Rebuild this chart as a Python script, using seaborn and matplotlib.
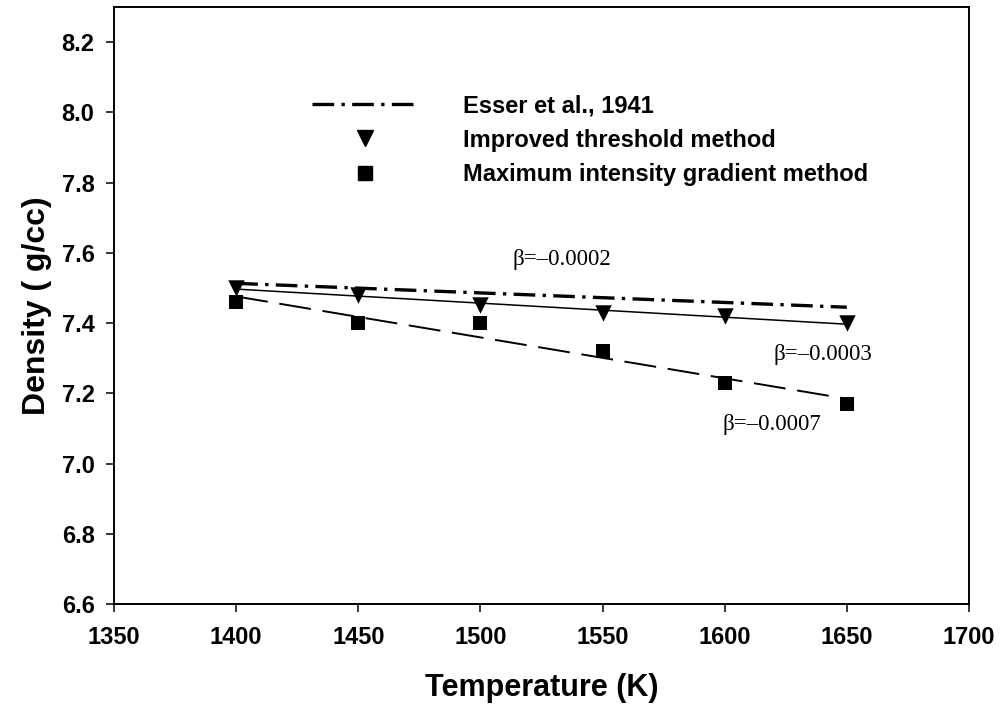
import numpy as np
import pandas as pd
import matplotlib
matplotlib.use("Agg")
import matplotlib.pyplot as plt
from matplotlib.lines import Line2D
import seaborn as sns

# ---------------- data ----------------
temperature = [1400, 1450, 1500, 1550, 1600, 1650]
rho_threshold = [7.50, 7.48, 7.45, 7.43, 7.42, 7.40]
rho_gradient = [7.46, 7.40, 7.40, 7.32, 7.23, 7.17]
esser_T = [1400, 1650]
esser_rho = [7.513, 7.445]
legend_labels = ["Esser et al., 1941", "Improved threshold method",
                 "Maximum intensity gradient method"]
beta_labels = ["β=–0.0002", "β=–0.0003", "β=–0.0007"]
beta_pos = [(1513, 7.564), (1620, 7.296), (1599, 7.096)]
x_ticks = [1350, 1400, 1450, 1500, 1550, 1600, 1650, 1700]
y_ticks = [6.6, 6.8, 7.0, 7.2, 7.4, 7.6, 7.8, 8.0, 8.2]

sns.set_style("ticks")
plt.rcParams['font.family'] = ['Liberation Sans', 'DejaVu Sans']
plt.rcParams['text.color'] = 'black'
plt.rcParams['axes.labelcolor'] = 'black'
plt.rcParams['xtick.color'] = 'black'
plt.rcParams['ytick.color'] = 'black'
plt.rcParams['legend.labelcolor'] = 'black'

fig = plt.figure(figsize=(10.01, 7.11), dpi=100)
ax = fig.add_axes([0.1139, 0.1505, 0.8541, 0.8397])

df_t = pd.DataFrame({"T": temperature, "rho": rho_threshold})
df_g = pd.DataFrame({"T": temperature, "rho": rho_gradient})
df_e = pd.DataFrame({"T": esser_T, "rho": esser_rho})

# Esser literature line
sns.lineplot(data=df_e, x="T", y="rho", ax=ax, color="black", lw=2.4,
             dashes=False, zorder=3)
ax.lines[-1].set_dashes((6.5, 2.2, 1.0, 2.2))

# Improved threshold method with linear fit
sns.regplot(data=df_t, x="T", y="rho", ax=ax, ci=None, marker="v",
            color="black",
            scatter_kws={"s": 140, "linewidths": 0, "zorder": 4, "alpha": 1},
            line_kws={"lw": 1.1, "zorder": 2})

# Maximum intensity gradient method with linear fit
sns.regplot(data=df_g, x="T", y="rho", ax=ax, ci=None, marker="s",
            color="black",
            scatter_kws={"s": 100, "linewidths": 0, "zorder": 4, "alpha": 1},
            line_kws={"lw": 1.4, "linestyle": (0, (16.5, 6.0)), "zorder": 2})

ax.set_xlim(1350, 1700)
ax.set_ylim(6.6, 8.3)
ax.set_xticks(x_ticks)
ax.set_yticks(y_ticks)
ax.set_xticklabels([str(v) for v in x_ticks])
ax.set_yticklabels([f"{v:.1f}" for v in y_ticks])

for sp in ax.spines.values():
    sp.set_linewidth(1.4)
    sp.set_color("black")
    sp.set_visible(True)

ax.tick_params(axis="both", direction="out", length=6, width=1.1,
               colors="black", labelsize=17)
ax.tick_params(axis="x", pad=10)
ax.tick_params(axis="y", pad=8)
for lab in ax.get_xticklabels() + ax.get_yticklabels():
    lab.set_fontweight("bold")

ax.set_xlabel("Temperature (K)", fontsize=22, fontweight="bold", color="black")
ax.set_ylabel("Density ( g/cc)", fontsize=23, fontweight="bold", color="black")
ax.xaxis.set_label_coords(0.5, -0.116)
ax.yaxis.set_label_coords(-0.073, 0.5)

for txt, (bx, by) in zip(beta_labels, beta_pos):
    ax.text(bx, by, txt, fontsize=16.5, family="Liberation Serif",
            ha="left", va="baseline", color="black")

handles = [
    Line2D([], [], color="black", lw=2.4, dashes=(6.5, 2.2, 1.0, 2.2)),
    Line2D([], [], color="black", marker="v", ls="none", ms=11.8),
    Line2D([], [], color="black", marker="s", ls="none", ms=10),
]
leg = ax.legend(handles, legend_labels, loc="upper left",
                bbox_to_anchor=(0.2316, 0.854), frameon=False,
                prop={"family": "Liberation Sans", "weight": "bold", "size": 17},
                handlelength=4.5, handletextpad=1.9, labelspacing=0.49,
                borderpad=0, borderaxespad=0)
for t in leg.get_texts():
    t.set_color("black")

fig.savefig("out.png", dpi=100)
